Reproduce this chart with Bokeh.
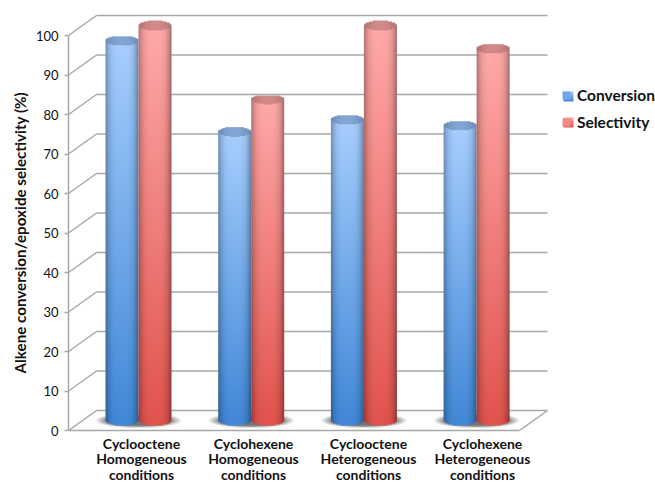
import numpy as np
from bokeh.plotting import figure
from bokeh.models import Range1d, FixedTicker, Legend, LegendItem, Title
from bokeh.embed import file_html
from bokeh.resources import INLINE

categories = ["Cyclooctene\nHomogeneous\nconditions", "Cyclohexene\nHomogeneous\nconditions",
              "Cyclooctene\nHeterogeneous\nconditions", "Cyclohexene\nHeterogeneous\nconditions"]
conversion = [96, 73, 76, 74.5]
selectivity = [100, 81, 100, 94]
y_ticks = list(range(0, 101, 10))
y_title = "Alkene conversion/epoxide selectivity (%)"
series_names = ["Conversion", "Selectivity"]

# layout constants (x axis is in page pixels, y axis in percent)
W, H = 655, 484
X0, Y0 = 68, 430
PX = 3.95
DX, DY = 28, 20 / PX
GRID_RIGHT = 519
GROUP_STEP = 112.7
FIRST_BLUE = 121.5
BAR_W = 33
LABEL_X = [141, 253, 368, 482]
GREY = "#a8a8a8"

p = figure(width=W, height=H, output_backend="svg", toolbar_location=None,
           x_range=Range1d(X0, W), y_range=Range1d(0, Y0 / PX),
           frame_width=W - X0, frame_height=Y0,
           min_border_left=X0, min_border_right=0, min_border_top=0, min_border_bottom=H - Y0)
p.outline_line_color = None
p.grid.visible = False
p.background_fill_color = "white"

ax = p.yaxis[0]
ax.ticker = FixedTicker(ticks=y_ticks)
ax.bounds = (0, 100)
ax.axis_line_color = GREY
ax.axis_line_width = 1.5
ax.major_tick_line_color = GREY
ax.major_tick_line_width = 1.5
ax.major_tick_out = 4
ax.major_tick_in = 0
ax.minor_tick_line_color = None
ax.major_label_text_font = "Lato"
ax.major_label_text_font_style = "normal"
ax.major_label_text_font_size = "13px"
ax.major_label_text_color = "#111111"
ax.major_label_standoff = 6

p.add_layout(Title(text=y_title, align="left", offset=57, standoff=8,
                   text_font="Lato", text_font_style="bold", text_font_size="15.2px",
                   text_color="#111111"), "left")

bx = p.xaxis[0]
bx.ticker = FixedTicker(ticks=LABEL_X)
bx.major_label_overrides = dict(zip(LABEL_X, categories))
bx.bounds = (X0, GRID_RIGHT)
bx.axis_line_color = GREY
bx.axis_line_width = 1.5
bx.major_tick_line_color = None
bx.minor_tick_line_color = None
bx.major_label_text_font = "Lato"
bx.major_label_text_font_style = "bold"
bx.major_label_text_font_size = "14px"
bx.major_label_text_line_height = 0.94
bx.major_label_text_color = "#111111"
bx.major_label_standoff = -2

# 3D walls
p.segment([X0] * len(y_ticks), y_ticks, [X0 + DX] * len(y_ticks), [t + DY for t in y_ticks],
          line_color=GREY, line_width=1.5)
p.segment([X0 + DX] * len(y_ticks), [t + DY for t in y_ticks],
          [GRID_RIGHT + DX] * len(y_ticks), [t + DY for t in y_ticks],
          line_color=GREY, line_width=1.5)
p.segment([GRID_RIGHT], [0], [GRID_RIGHT + DX], [DY], line_color=GREY, line_width=1.5)


def rgba(col, alpha):
    arr = np.dstack([np.clip(col, 0, 255), np.clip(alpha, 0, 1) * 255]).astype(np.uint8)
    return arr.view(np.uint32).reshape(arr.shape[:2])


def bar_image(value, top, bottom, lid, scale=3):
    rx = BAR_W / 2
    ry = 5.0
    h_px = value * PX + 2 * ry
    ny, nx = int(h_px * scale), int(BAR_W * scale)
    ys = (np.arange(ny) + .5) / scale - ry           # px above base centre
    xs = (np.arange(nx) + .5) / scale - rx
    xx, yy = np.meshgrid(xs, ys)
    u = xx / rx
    top_y = value * PX
    e = np.sqrt(np.clip(1 - u ** 2, 0, 1)) * ry
    inside = (yy >= -e) & (yy <= top_y + e) & (np.abs(u) <= 1)
    t = np.clip(yy / top_y, 0, 1)[..., None]
    base = np.array(bottom) * (1 - t) + np.array(top) * t
    shade = 1 - 0.34 * np.clip((u + 0.05) / 1.05, -1, 1) ** 4 * (1 + 0.15 * (u > 0))
    shade = shade * (1 - 0.12 * np.clip(-u, 0, 1) ** 3)
    col = base * shade[..., None]
    in_lid = ((yy - top_y) / ry) ** 2 + u ** 2 <= 1
    lid_col = np.array(lid) * (1 - 0.18 * np.abs(u)[..., None] ** 2)
    col = np.where(in_lid[..., None], lid_col, col)
    return rgba(col, inside.astype(float))


def shadow_image(nx=172, ny=30):
    xs = np.linspace(-1, 1, nx)
    ys = np.linspace(-1, 1, ny)
    xx, yy = np.meshgrid(xs, ys)
    d = np.sqrt(xx ** 2 + yy ** 2)
    a = np.clip((1 - d) * 3.2, 0, 1) * 0.85
    col = np.full((ny, nx, 3), 95.0)
    return rgba(col, a)


def swatch_image(top, bottom, n=20):
    t = np.linspace(0, 1, n)[:, None, None]
    col = np.array(bottom) * (1 - t) + np.array(top) * t
    col = np.repeat(col, 4, axis=1)
    return rgba(col, np.ones((n, 4)))


blue = dict(top=(167, 207, 255), bottom=(66, 137, 216), lid=(132, 166, 214))
red = dict(top=(255, 170, 170), bottom=(226, 84, 78), lid=(212, 138, 138))

base_v = DY / 2
renderers = []
for i, (a, b) in enumerate(zip(conversion, selectivity)):
    cx = FIRST_BLUE + GROUP_STEP * i
    p.image_rgba(image=[shadow_image()], x=cx + BAR_W / 2 - 44, y=base_v - 8 / PX, dw=88, dh=16 / PX)
    for val, col, off, pal in ((a, "#6fa8e8", 0, blue), (b, "#f08a86", BAR_W, red)):
        r = p.vbar(x=cx + off, bottom=base_v, top=base_v + val, width=BAR_W - 2,
                   fill_color=col, line_color=None)
        if i == 0:
            renderers.append(r)
        p.image_rgba(image=[bar_image(val, **pal)], x=cx + off - BAR_W / 2, y=base_v - 5 / PX,
                     dw=BAR_W, dh=val + 10 / PX)

legend = Legend(items=[LegendItem(label=n, renderers=[r]) for n, r in zip(series_names, renderers)],
                location=(493, 299), orientation="vertical", padding=0, margin=0,
                background_fill_alpha=0, border_line_color=None,
                glyph_width=10, glyph_height=10, label_standoff=6, spacing=9,
                label_text_font="Lato", label_text_font_style="bold",
                label_text_font_size="15.5px", label_text_color="#111111")
p.add_layout(legend)

for sy, pal in ((91, blue), (117, red)):
    p.image_rgba(image=[swatch_image(pal["top"], pal["bottom"])], x=563, y=(Y0 - sy - 10) / PX,
                 dw=10, dh=10 / PX, level="overlay")

open("out.html", "w").write(file_html(p, INLINE))
